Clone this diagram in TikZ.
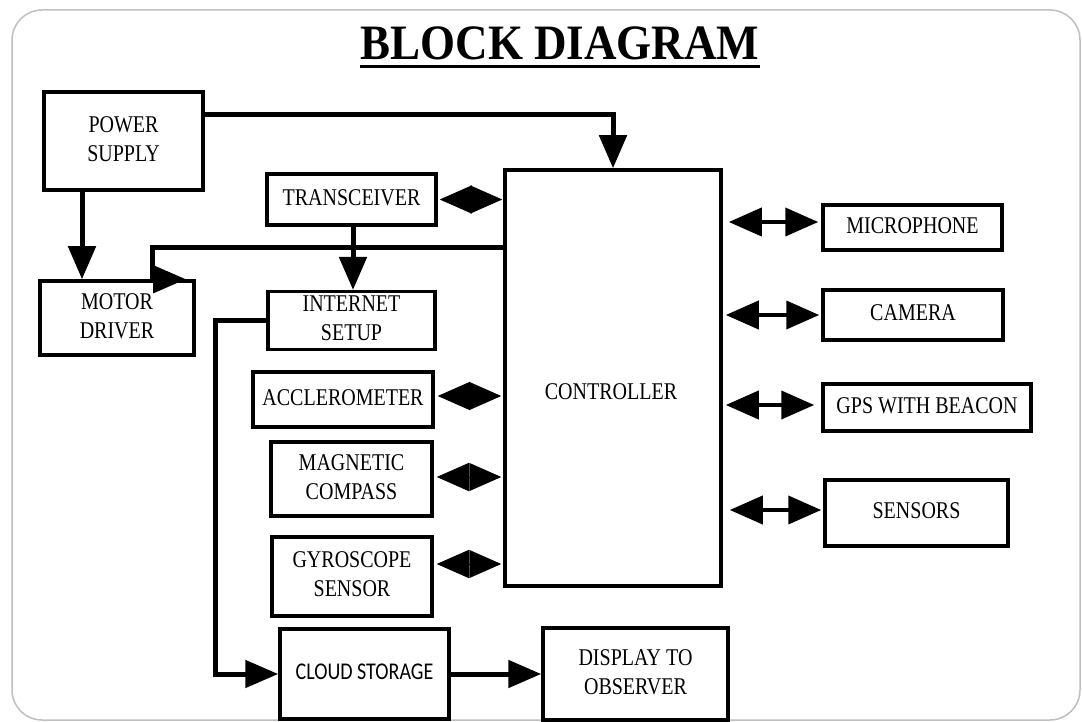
\documentclass[tikz,border=0pt]{standalone}
\usepackage{fontspec}
\usepackage{graphicx}
\setmainfont{Liberation Serif}
\newfontfamily\carlitof{Carlito}
\usetikzlibrary{arrows.meta}
\newcommand{\tx}[1]{\scalebox{1}[1.2]{\begin{tabular}{@{}c@{}}#1\end{tabular}}}
\begin{document}
\begin{tikzpicture}[x=1pt,y=-1pt,
  box/.style={draw, line width=3.5pt, inner sep=0pt, font=\fontsize{20}{24}\selectfont},
  arr/.style={line width=5pt, -{Triangle[length=33pt,width=27pt]}},
  dia/.style={line width=1pt, shorten <=3pt, shorten >=2pt, {Triangle[length=32pt,width=28pt]}-{Triangle[length=32pt,width=28pt]}},
  dbl/.style={line width=4pt, {Triangle[length=33pt,width=28pt]}-{Triangle[length=33pt,width=28pt]}},
]
\useasboundingbox (0,0) rectangle (1082,722);
\fill[white] (0,0) rectangle (1082,722);
\draw[black!25, line width=1.5pt, rounded corners=30pt] (12,10) rectangle (1080,720);

% title
\node[font=\fontsize{45}{50}\selectfont\bfseries, inner sep=0pt, anchor=base] (title) at (560,60) {\scalebox{1}[1.1]{BLOCK DIAGRAM}};
\draw[line width=3pt] ([yshift=-7pt]title.base west) -- ([yshift=-7pt]title.base east);

% boxes
\node[box, minimum width=159pt, minimum height=98pt] (ps) at (123.5,141) {\tx{POWER\\SUPPLY}};
\node[box, minimum width=169pt, minimum height=51pt] (tr) at (351.5,199.5) {\tx{TRANSCEIVER}};
\node[box, minimum width=216pt, minimum height=416pt,
  label={[font=\fontsize{20}{24}\selectfont, yshift=-16pt, xshift=-2pt]center:\tx{CONTROLLER}}] (ctrl) at (613,378) {};
\node[box, minimum width=154pt, minimum height=74pt] (md) at (117,318) {\tx{MOTOR\\DRIVER}};
\node[box, minimum width=167pt, minimum height=55pt] (inet) at (351.5,320.5) {\raisebox{-4pt}{\tx{INTERNET\\SETUP}}};
\node[box, minimum width=180pt, minimum height=55pt] (acc) at (343,399.5) {\tx{ACCLEROMETER}};
\node[box, minimum width=161pt, minimum height=74pt] (mag) at (351.5,479) {\tx{MAGNETIC\\COMPASS}};
\node[box, minimum width=160pt, minimum height=79pt] (gyro) at (352,576.5) {\tx{GYROSCOPE\\SENSOR}};
\node[box, minimum width=169pt, minimum height=90pt, font=\fontsize{20}{24}\carlitof] (cloud) at (364.5,674) {\tx{CLOUD STORAGE}};
\node[box, minimum width=185pt, minimum height=92pt] (disp) at (635.5,674) {\raisebox{-2pt}{\tx{DISPLAY TO\\OBSERVER}}};
\node[box, minimum width=179pt, minimum height=45pt] (mic) at (912.5,227.5) {\tx{MICROPHONE}};
\node[box, minimum width=180pt, minimum height=50pt] (cam) at (913,315) {\tx{CAMERA}};
\node[box, minimum width=208pt, minimum height=47pt] (gps) at (927,407.5) {\tx{GPS WITH BEACON}};
\node[box, minimum width=183pt, minimum height=66pt] (sens) at (916.5,513) {\tx{SENSORS}};

% connectors
\draw[arr] (ps.east |- 0,115) -| (ctrl.north);
\draw[arr] (ps.south -| 82,0) -- (md.north -| 82,0);
\draw[arr, line join=miter] (ctrl.west |- 0,248) -| (md.north -| 152,0) -- (md.north -| 186,0);
\draw[arr] (tr.south -| 353,0) -- (inet.north -| 353,0);
\draw[arr, line join=miter] (inet.west) -| (cloud.west -| 215,0) -- (cloud.west);
\draw[arr] (cloud.east) -- (disp.west);

\draw[dia, shorten <=2pt, shorten >=1pt] (tr.east) -- (ctrl.west |- tr.east);
\draw[dia] (acc.east |- 0,396) -- (ctrl.west |- 0,396);
\draw[dia] (mag.east |- 0,477) -- (ctrl.west |- 0,477);
\draw[dia] (gyro.east |- 0,564) -- (ctrl.west |- 0,564);

\draw[dbl, shorten <=6pt, shorten >=3pt] (ctrl.east |- 0,222) -- (mic.west |- 0,222);
\draw[dbl, shorten <=3pt, shorten >=2pt] (ctrl.east |- cam.west) -- (cam.west);
\draw[dbl, shorten <=3pt, shorten >=7pt] (ctrl.east |- 0,405) -- (gps.west |- 0,405);
\draw[dbl, shorten <=7pt, shorten >=2pt] (ctrl.east |- 0,510) -- (sens.west |- 0,510);
\end{tikzpicture}
\end{document}
